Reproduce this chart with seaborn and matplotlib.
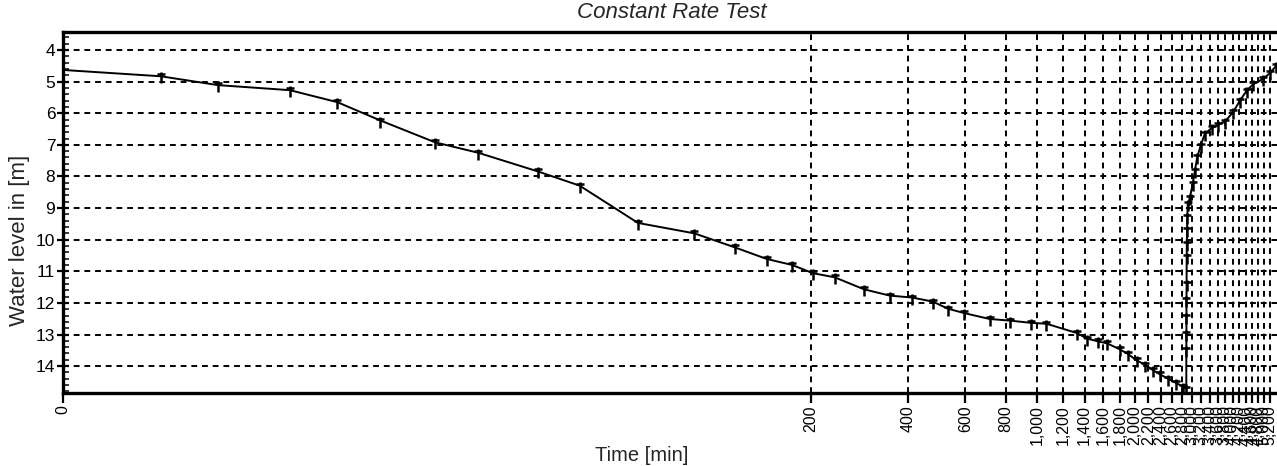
import numpy as np
import pandas as pd
import matplotlib
matplotlib.use("Agg")
import matplotlib.pyplot as plt
from matplotlib.path import Path
from matplotlib.ticker import FixedLocator, MultipleLocator, FixedFormatter
import seaborn as sns

# ---------------- data ----------------
title = "Constant Rate Test"
x_label = "Time [min]"
y_label = "Water level in [m]"

pump_time = [0, 1, 2, 4, 6, 8.5, 13, 18, 28, 38, 58, 87, 116, 146, 175, 203,
             237, 292, 351, 411, 477, 529, 594, 714, 823, 954, 1068, 1322,
             1426, 1542, 1643, 1797, 1907, 2024, 2148, 2267, 2388, 2533,
             2675, 2816, 2880]
pump_level = [4.63, 4.83, 5.11, 5.27, 5.65, 6.23, 6.92, 7.25, 7.84, 8.29,
              9.47, 9.80, 10.24, 10.61, 10.80, 11.06, 11.19, 11.57, 11.77,
              11.83, 11.96, 12.18, 12.32, 12.51, 12.56, 12.63, 12.66, 12.95,
              13.13, 13.22, 13.28, 13.47, 13.62, 13.82, 13.95, 14.12, 14.26,
              14.40, 14.53, 14.65, 14.72]

recovery_time = [2881, 2882, 2883, 2884, 2886, 2888, 2890, 2895, 2900, 2910,
                 2954, 3012, 3061, 3111, 3187, 3285, 3446, 3611, 3786, 4017,
                 4214, 4417, 4628, 4970, 5209, 5438]
recovery_level = [13.50, 12.97, 12.45, 11.92, 11.40, 10.55, 10.13, 9.70, 9.29,
                  8.87, 8.67, 8.24, 7.82, 7.40, 7.03, 6.65, 6.47, 6.37, 6.27,
                  5.96, 5.60, 5.29, 5.08, 4.91, 4.73, 4.51]

x_ticks = list(range(0, 5201, 200))
x_tick_labels = [f"{v:,}" for v in x_ticks]
y_ticks = list(range(4, 15))

df = pd.DataFrame({"time": pump_time + recovery_time,
                   "level": pump_level + recovery_level})

# ---------------- style ----------------
sns.set_style("ticks")
plt.rcParams["font.family"] = ["Liberation Sans", "DejaVu Sans"]

fig = plt.figure(figsize=(12.77, 4.66), dpi=100)
ax = fig.add_axes([0.0493, 0.1567, 0.9507, 0.7746])

ax.set_xscale("function", functions=(lambda t: np.log10(np.asarray(t) + 1.0),
                                     lambda u: 10 ** np.asarray(u) - 1.0))

# dagger-like marker used by the plotting software
dagger = Path([(0, -1.0), (0, 0.6), (-0.55, 0.25), (0.55, 0.25)],
              [Path.MOVETO, Path.LINETO, Path.MOVETO, Path.LINETO])

sns.lineplot(data=df, x="time", y="level", ax=ax, sort=False, estimator=None,
             color="black", linewidth=1.4, marker=dagger, markersize=10,
             markeredgewidth=1.8, markeredgecolor="black",
             markevery=slice(1, None))

ax.set_xlim(0, 5480)
ax.set_ylim(14.85, 3.43)

ax.xaxis.set_major_locator(FixedLocator(x_ticks))
ax.xaxis.set_major_formatter(FixedFormatter(x_tick_labels))
ax.xaxis.set_minor_locator(FixedLocator([]))
ax.yaxis.set_major_locator(FixedLocator(y_ticks))
ax.yaxis.set_minor_locator(MultipleLocator(0.2))

ax.tick_params(axis="x", which="major", direction="out", length=7, width=1.6,
               labelsize=11.5, rotation=90, pad=2, colors="black")
ax.tick_params(axis="y", which="major", direction="inout", length=9, width=1.6,
               labelsize=12.5, pad=1, colors="black")
ax.tick_params(axis="y", which="minor", direction="in", length=4, width=1.3)

ax.grid(True, which="major", color="black", linestyle=(0, (3, 2.5)),
        linewidth=1.4)

for side in ["top", "bottom", "left"]:
    ax.spines[side].set_linewidth(2.4)
    ax.spines[side].set_color("black")
ax.spines["right"].set_visible(False)

ax.set_xlabel(x_label, fontsize=14.5)
ax.set_ylabel(y_label, fontsize=16)
ax.xaxis.label.set_va("center")
ax.xaxis.set_label_coords(0.477, -0.172)
ax.yaxis.label.set_va("center")
ax.yaxis.set_label_coords(-0.036, 0.424)

fig.text(0.526, 0.962, title, fontsize=16, fontstyle="italic",
         ha="center", va="baseline")

fig.savefig("out.png", dpi=100)
